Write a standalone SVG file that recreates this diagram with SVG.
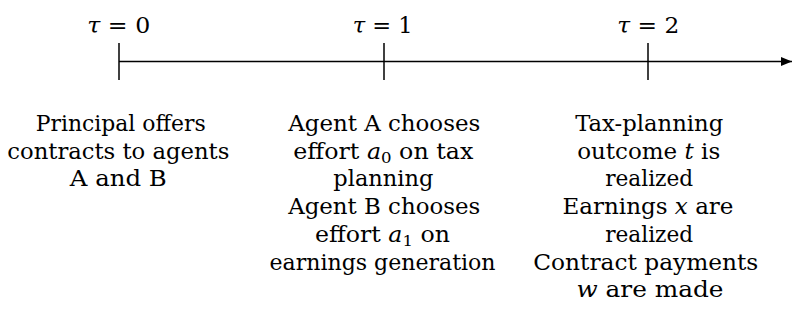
<svg xmlns="http://www.w3.org/2000/svg" width="793" height="322" viewBox="0 0 793 322">
<style>
text{font-family:'DejaVu Serif','Liberation Serif',serif;font-size:21.5px;fill:#000;text-anchor:middle}
.m{font-style:italic}
.s{font-size:15px;font-style:normal}
.tick{stroke:#000;stroke-width:1.5;fill:none}
.axis{stroke:#000;stroke-width:1.5;fill:none}
</style>
<defs>
<marker id="ah" markerUnits="userSpaceOnUse" markerWidth="12" markerHeight="10" refX="11" refY="5" orient="auto">
<path d="M0,0.6 L11,5 L0,9.4 Z" fill="#000"/>
</marker>
</defs>
<rect width="793" height="322" fill="#fff"/>
<g id="connectors">
<line class="axis" x1="119" y1="61.5" x2="792" y2="61.5" marker-end="url(#ah)"/>
</g>
<g id="t0">
<line class="tick" x1="119" y1="43" x2="119" y2="80"/>
<text x="118.7" y="33" textLength="63" lengthAdjust="spacingAndGlyphs"><tspan class="m">τ</tspan> = 0</text>
</g>
<g id="t1">
<line class="tick" x1="384" y1="43" x2="384" y2="80"/>
<text x="382.7" y="33" textLength="60" lengthAdjust="spacingAndGlyphs"><tspan class="m">τ</tspan> = 1</text>
</g>
<g id="t2">
<line class="tick" x1="648" y1="43" x2="648" y2="80"/>
<text x="648.3" y="33" textLength="62" lengthAdjust="spacingAndGlyphs"><tspan class="m">τ</tspan> = 2</text>
</g>
<g id="e0">
<text x="120.7" y="131" textLength="170" lengthAdjust="spacingAndGlyphs">Principal offers</text>
<text x="118.3" y="158.7" textLength="222" lengthAdjust="spacingAndGlyphs">contracts to agents</text>
<text x="118.3" y="186.4" textLength="97" lengthAdjust="spacingAndGlyphs">A and B</text>
</g>
<g id="e1">
<text x="384.2" y="131" textLength="192" lengthAdjust="spacingAndGlyphs">Agent A chooses</text>
<text x="383.3" y="158.7" textLength="180" lengthAdjust="spacingAndGlyphs">effort <tspan class="m">a</tspan><tspan class="s" dy="4">0</tspan><tspan dy="-4"> on tax</tspan></text>
<text x="383.3" y="186.4" textLength="100" lengthAdjust="spacingAndGlyphs">planning</text>
<text x="384.2" y="214.1" textLength="192" lengthAdjust="spacingAndGlyphs">Agent B chooses</text>
<text x="382.5" y="241.8" textLength="135" lengthAdjust="spacingAndGlyphs">effort <tspan class="m">a</tspan><tspan class="s" dy="4">1</tspan><tspan dy="-4"> on</tspan></text>
<text x="382.5" y="269.5" textLength="226" lengthAdjust="spacingAndGlyphs">earnings generation</text>
</g>
<g id="e2">
<text x="649.2" y="131" textLength="148" lengthAdjust="spacingAndGlyphs">Tax-planning</text>
<text x="648.7" y="158.7" textLength="143" lengthAdjust="spacingAndGlyphs">outcome <tspan class="m">t</tspan> is</text>
<text x="649.2" y="186.4" textLength="88" lengthAdjust="spacingAndGlyphs">realized</text>
<text x="648" y="214.1" textLength="171" lengthAdjust="spacingAndGlyphs">Earnings <tspan class="m">x</tspan> are</text>
<text x="649.2" y="241.8" textLength="88" lengthAdjust="spacingAndGlyphs">realized</text>
<text x="645.8" y="269.5" textLength="225" lengthAdjust="spacingAndGlyphs">Contract payments</text>
<text x="650" y="297.2" textLength="147" lengthAdjust="spacingAndGlyphs"><tspan class="m">w</tspan> are made</text>
</g>
</svg>
